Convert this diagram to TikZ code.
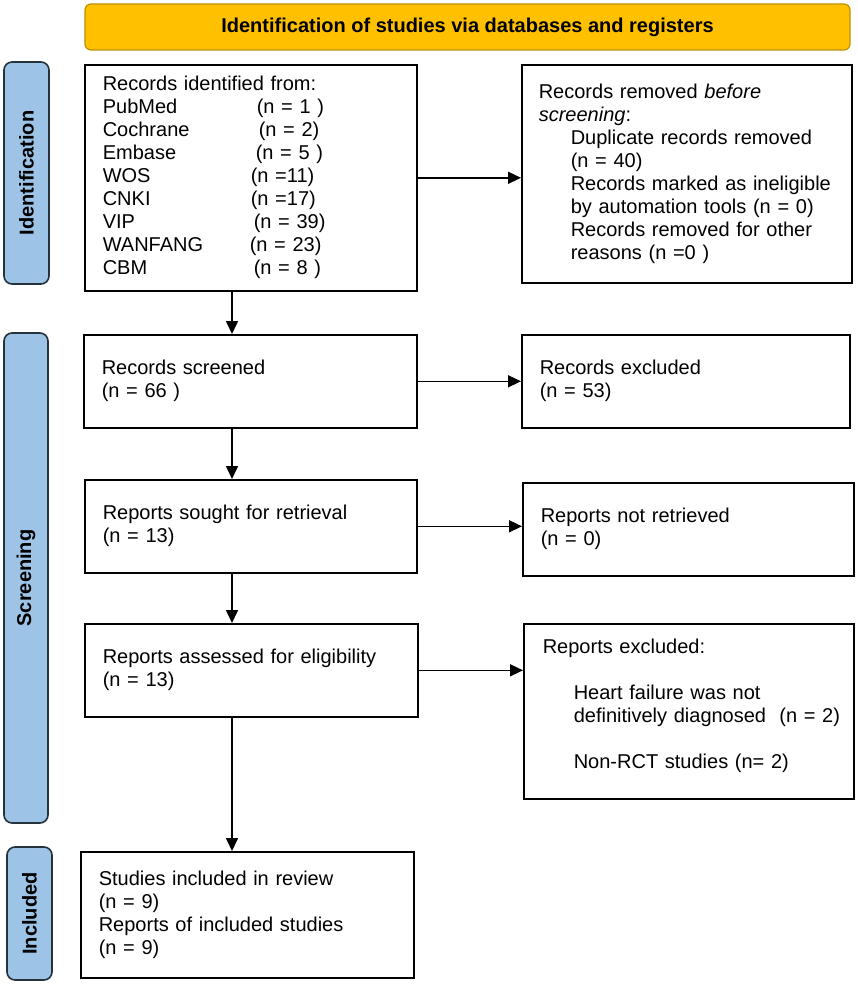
\documentclass[tikz,border=0pt]{standalone}
\usepackage{fontspec}
\setmainfont{Liberation Sans}
\usepackage{tikz}
\usetikzlibrary{arrows.meta,positioning}

\definecolor{hdrfill}{HTML}{FFC000}
\definecolor{hdrline}{HTML}{BF9000}
\definecolor{sidefill}{HTML}{9DC3E6}
\definecolor{sideline}{HTML}{26323C}

% one line of the database list: name, column offset, count
\newcommand{\dbrow}[3]{\makebox[#2pt][l]{#1}#3}

\tikzset{
  box/.style={draw, line width=1.6pt, anchor=north west, align=left,
    inner xsep=18pt, inner ysep=0pt},
  side/.style={draw=sideline, fill=sidefill, line width=1.6pt,
    rounded corners=8pt, rotate=90, inner sep=0pt,
    font=\bfseries\fontsize{20pt}{23pt}\selectfont},
  arr/.style={-{Triangle[length=13pt,width=12pt]}, line width=1.6pt}
}

\begin{document}
\begin{tikzpicture}[x=1pt, y=-1pt, font=\fontsize{20pt}{23pt}\selectfont]
        \useasboundingbox (0,0) rectangle (858,984);

        % title bar
        \node[draw=hdrline, fill=hdrfill, line width=1.2pt, rounded corners=6pt,
          minimum width=765pt, minimum height=46pt, inner sep=0pt,
          font=\bfseries\fontsize{20pt}{23pt}\selectfont] (T) at (467.5,27)
          {Identification of studies via databases and registers};

        % phase labels
        \node[side, minimum width=222pt, minimum height=45pt] (P1) at (26.5,173) {Identification};
        \node[side, minimum width=490pt, minimum height=44pt] (P2) at (26,578) {Screening};
        \node[side, minimum width=133pt, minimum height=45pt] (P3) at (29.5,913.5) {Included};

        % main column
        \node[box, text width=296pt, minimum height=226pt] (A) at (84,64)
          {Records identified from:\\
           \dbrow{PubMed}{154}{(n = 1 )}\\
           \dbrow{Cochrane}{156}{(n = 2)}\\
           \dbrow{Embase}{153}{(n = 5 )}\\
           \dbrow{WOS}{148}{(n =11)}\\
           \dbrow{CNKI}{148}{(n =17)}\\
           \dbrow{VIP}{151}{(n = 39)}\\
           \dbrow{WANFANG}{147}{(n = 23)}\\
           \dbrow{CBM}{151}{(n = 8 )}};
        \node[box, text width=297pt, minimum height=93pt] (B) at (83,334)
          {Records screened\\(n = 66 )};
        \node[box, text width=296pt, minimum height=93pt] (C) at (84,479)
          {Reports sought for retrieval\\(n = 13)};
        \node[box, text width=297pt, minimum height=93pt] (D) at (84,623)
          {Reports assessed for eligibility\\(n = 13)};
        \node[box, text width=297pt, minimum height=126pt] (E) at (80,851)
          {Studies included in review\\(n = 9)\\Reports of included studies\\(n = 9)};

        % right column
        \node[box, text width=296pt, minimum height=218pt, inner xsep=17pt] (F) at (521,64)
          {Records removed \textit{before}\\
           \textit{screening}:\\
           \hspace*{32pt}Duplicate records removed\\
           \hspace*{32pt}(n = 40)\\
           \hspace*{32pt}Records marked as ineligible\\
           \hspace*{32pt}by automation tools (n = 0)\\
           \hspace*{32pt}Records removed for other\\
           \hspace*{32pt}reasons (n =0 )};
        \node[box, text width=292pt, minimum height=93pt] (G) at (521,334)
          {Records excluded\\(n = 53)};
        \node[box, text width=295pt, minimum height=93pt] (H) at (522,482)
          {Reports not retrieved\\(n = 0)};
        \node[box, text width=292pt, minimum height=175pt, inner xsep=19pt] (I) at (523,623)
          {Reports excluded:\\[23pt]
           \hspace*{31pt}Heart failure was not\\
           \hspace*{31pt}\mbox{definitively diagnosed\ \ (n = 2)}\\[23pt]
           \hspace*{31pt}Non-RCT studies (n= 2)\\[-7pt]
           \mbox{}};

        \coordinate (ax) at (232,0);

        % down the main column
        \draw[arr] (A.south -| ax) -- (B.north -| ax);
        \draw[arr] (B.south -| ax) -- (C.north -| ax);
        \draw[arr] (C.south -| ax) -- (D.north -| ax);
        \draw[arr] (D.south -| ax) -- (E.north -| ax);

        % out to the right column
        \draw[arr] (A.east) -- (A.east -| F.west);
        \draw[arr] (B.east) -- (B.east -| G.west);
        \draw[arr] (C.east) -- (C.east -| H.west);
        \draw[arr] (D.east) -- (D.east -| I.west);
\end{tikzpicture}
\end{document}
